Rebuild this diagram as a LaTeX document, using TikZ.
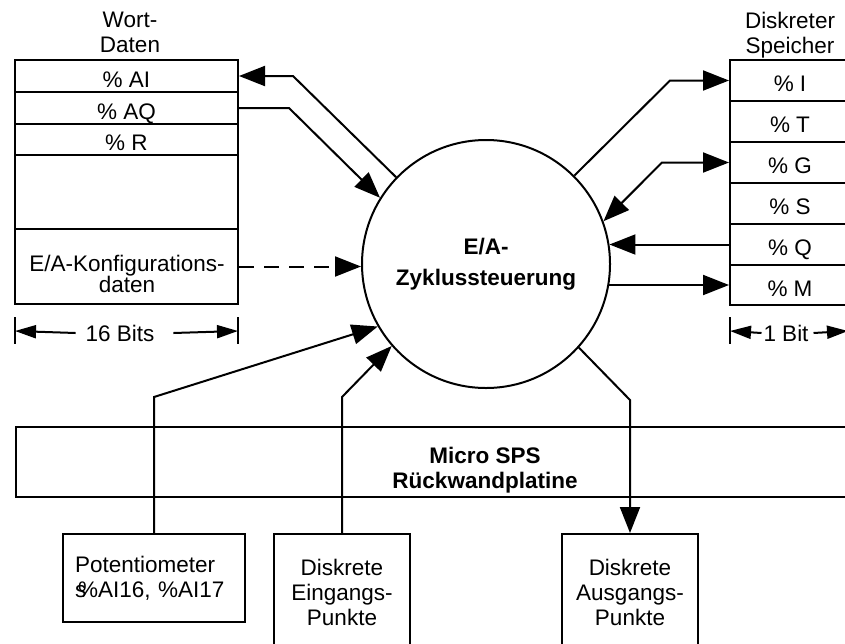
\documentclass[tikz,border=0pt]{standalone}
\usepackage{fontspec}
\setmainfont{Liberation Sans}
\usetikzlibrary{arrows.meta}
\begin{document}
\begin{tikzpicture}[x=1pt, y=-1pt, line width=2pt,
  every node/.style={font=\fontsize{22.5}{25}\selectfont, inner sep=0pt},
  cell/.style={draw, rectangle, minimum width=#1, text height=22pt, text depth=0pt},
  box/.style={draw, rectangle},
  title/.style={align=center},
  arr/.style={-{Triangle[length=26pt,width=20pt]}},
  arrboth/.style={{Triangle[length=26pt,width=20pt]}-{Triangle[length=26pt,width=20pt]}},
  dimarr/.style={-{Triangle[length=21pt,width=13pt]}},
  cfgline/.style={arr, dash pattern=on 15pt off 10pt},
  boldtext/.style={align=center, font=\fontsize{22.5}{25}\selectfont\bfseries}]

\useasboundingbox (0,0) rectangle (845,643);
\clip (0,0) rectangle (845,643);

% word data table
\node[title] (wort) at (130,32.5) {Wort-\\Daten};
\node[cell=223pt, minimum height=32pt] (ai) at (126.5,76) {\% AI};
\node[cell=223pt, minimum height=32pt] (aq) at (126.5,108) {\% AQ};
\node[cell=223pt, minimum height=31pt] (rr) at (126.5,139.5) {\% R};
\node[cell=223pt, minimum height=74pt] (free) at (126.5,192) {};
\node[cell=223pt, minimum height=75pt] (cfg) at (126.5,266.5) {};
\node[align=center, font=\fontsize{22.5}{21.6}\selectfont] (cfgtxt) at (127,274) {E/A-Konfigurations-\\daten};

% discrete memory table
\node[title] (disk) at (790,35.3) {Diskreter\\Speicher};
\node[cell=120pt, minimum height=41pt] (ri) at (790,80.5) {\% I};
\node[cell=120pt, minimum height=41pt] (rt) at (790,121.5) {\% T};
\node[cell=120pt, minimum height=41pt] (rg) at (790,162.5) {\% G};
\node[cell=120pt, minimum height=41pt] (rs) at (790,203.5) {\% S};
\node[cell=120pt, minimum height=41pt] (rq) at (790,244.5) {\% Q};
\node[cell=120pt, minimum height=40pt] (rm) at (790,285) {\% M};

% width markers
\coordinate (t16l) at (15,331);
\coordinate (t16r) at (238,331);
\draw (15,317) -- (15,344);
\draw (238,317) -- (238,344);
\node (b16) at (120,333) {16 Bits};
\draw[dimarr] ([xshift=-9pt]b16.west) -- (t16l);
\draw[dimarr] ([xshift=18pt]b16.east) -- (t16r);

\coordinate (t1l) at (730,331);
\coordinate (t1r) at (848,331);
\draw (730,317) -- (730,344);
\draw (850,317) -- (850,344);
\node (b1) at (786,333) {1 Bit};
\draw[dimarr] ([xshift=-1pt]b1.west) -- (t1l);
\draw[dimarr] ([xshift=4pt]b1.east) -- (t1r);

% I/O cycle control
\node[draw, circle, minimum size=248pt, align=center,
      font=\fontsize{22.5}{31}\selectfont\bfseries] (ctl) at (486,264) {E/A-\\Zyklussteuerung};

% backplane
\node[box, minimum width=845pt, minimum height=70pt, anchor=north west] (bp) at (15,426) {};
\node[boldtext] (bptxt) at (485,470) {Micro SPS\\Rückwandplatine};

% field devices
\node[box, minimum width=182pt, minimum height=88pt, text width=158pt, align=left] (pot) at (154,578)
  {Potentiometer\\\makebox[3pt][l]{s}\%AI16, \%AI17};
\node[box, minimum width=136pt, minimum height=117pt, align=center] (ein) at (342,592.5)
  {Diskrete\\Eingangs-\\Punkte};
\node[box, minimum width=136pt, minimum height=117pt, align=center] (aus) at (630,592.5)
  {Diskrete\\Ausgangs-\\Punkte};

% bend points
\coordinate (c1) at (293,76);
\coordinate (c2) at (289,108);
\coordinate (c3) at (670,80.5);
\coordinate (c4) at (662,162.5);
\coordinate (c5) at (154,397);
\coordinate (c6) at (342,397);
\coordinate (c7) at (630,400);

% data flows
\draw[arr] (ctl.136.6) -- (c1) -- (ai.east);
\draw[arr] (aq.east) -- (c2) -- (ctl.148.1);
\draw[cfgline] (cfg.east) -- (cfg.east -| ctl.west);
\draw[arr] (ctl.45) -- (c3) -- (ri.west);
\draw[arrboth] (rg.west) -- (c4) -- (ctl.20);
\draw[arr] (rq.west) -- (rq.west -| ctl.9.3);
\draw[arr] (rm.west -| ctl.-9.75) -- (rm.west);
\draw[arr] (pot.north) -- (c5) -- (ctl.210);
\draw[arr] (ein.north) -- (c6) -- (ctl.221.4);
\draw[arr] (ctl.-42.4) -- (c7) -- (aus.north);
\end{tikzpicture}
\end{document}
